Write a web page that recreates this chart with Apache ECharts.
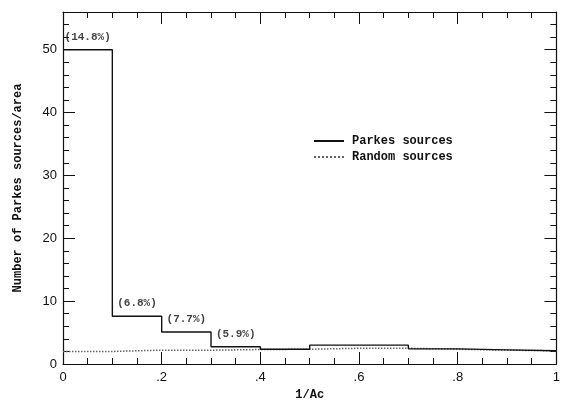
<!DOCTYPE html>
<html><head><meta charset="utf-8">
<script src="https://cdn.jsdelivr.net/npm/echarts@6/dist/echarts.min.js"></script>
<style>html,body{margin:0;padding:0;background:#fff}#c{width:563px;height:406px}</style>
</head><body><div id="c"></div>
<script>
const binEdges = [0, 0.1, 0.2, 0.3, 0.4, 0.5, 0.6, 0.7, 0.8, 0.9, 1.0];
const parkesValues = [50, 7.6, 5.1, 2.75, 2.35, 3.0, 3.0, 2.4, 2.25, 2.1];
const randomValues = [2.0, 2.2, 2.2, 2.3, 2.35, 2.5, 2.5, 2.35, 2.2, 2.1];
const annotLabels = ['(14.8%)', '(6.8%)', '(7.7%)', '(5.9%)'];
const xTickLabels = {0: '0', 0.2: '.2', 0.4: '.4', 0.6: '.6', 0.8: '.8', 1: '1'};

function stepData(vals) {
  const d = vals.map((v, i) => [binEdges[i], v]);
  d.push([binEdges[vals.length], vals[vals.length - 1]]);
  return d;
}
const annotData = annotLabels.map((t, i) => ({
  value: [(binEdges[i] + binEdges[i + 1]) / 2, parkesValues[i]],
  name: t
}));

const ink = '#111';
const mono = '"Liberation Mono", monospace';
const sans = '"Liberation Sans", Arial, sans-serif';

function xAx(pos, show) {
  return {
    type: 'value', position: pos, min: 0, max: 1, interval: 0.2,
    axisLine: {show: true, onZero: false, lineStyle: {color: ink, width: 1.2}},
    axisTick: {show: true, inside: true, length: 12, lineStyle: {color: ink}},
    minorTick: {show: true, splitNumber: 4, length: 6, lineStyle: {color: ink}},
    splitLine: {show: false},
    axisLabel: {show: show, margin: 7, color: ink, fontFamily: sans, fontSize: 13,
      formatter: v => xTickLabels[Math.round(v * 10) / 10] ?? ''},
    name: show ? '1/Ac' : '', nameLocation: 'middle', nameGap: 25,
    nameTextStyle: {color: ink, fontFamily: mono, fontSize: 12, fontWeight: 'bold'}
  };
}
function yAx(pos, show) {
  return {
    type: 'value', position: pos, min: 0, max: 56, interval: 10,
    axisLine: {show: true, onZero: false, lineStyle: {color: ink, width: 1.2}},
    axisTick: {show: true, inside: true, length: 12, lineStyle: {color: ink}},
    minorTick: {show: true, splitNumber: 5, length: 6, lineStyle: {color: ink}},
    splitLine: {show: false},
    axisLabel: {show: show, margin: 6, color: ink, fontFamily: sans, fontSize: 13, showMaxLabel: false},
    name: show ? 'Number of Parkes sources/area' : '', nameLocation: 'middle', nameGap: 39,
    nameTextStyle: {color: ink, fontFamily: mono, fontSize: 12, fontWeight: 'bold'}
  };
}

const chart = echarts.init(document.getElementById('c'), null, {renderer: 'canvas'});
chart.setOption({
  animation: false,
  backgroundColor: '#fff',
  grid: {left: 63, right: 3, top: 12, bottom: 29, containLabel: false},
  xAxis: [xAx('bottom', true), xAx('top', false)],
  yAxis: [yAx('left', true), yAx('right', false)],
  legend: {
    orient: 'vertical', left: 313, top: 135, padding: 0, itemWidth: 30, itemHeight: 12, itemGap: 4,
    itemStyle: {opacity: 0},
    textStyle: {color: ink, fontFamily: mono, fontSize: 12, fontWeight: 'bold', padding: [0, 0, 0, 3]},
    data: ['Parkes sources', 'Random sources']
  },
  series: [
    {
      name: 'Random sources', type: 'line', step: 'end', symbol: 'none',
      xAxisIndex: 0, yAxisIndex: 0,
      lineStyle: {color: '#666', width: 1.5, type: 'dotted'},
      itemStyle: {color: '#666'},
      data: stepData(randomValues), z: 2
    },
    {
      name: 'Parkes sources', type: 'line', step: 'end', symbol: 'none',
      xAxisIndex: 0, yAxisIndex: 0,
      lineStyle: {color: ink, width: 1.4},
      itemStyle: {color: ink},
      data: stepData(parkesValues), z: 3
    },
    {
      name: 'annot', type: 'scatter', symbolSize: 0, xAxisIndex: 0, yAxisIndex: 0,
      data: annotData, silent: true,
      label: {show: true, position: 'top', distance: 7, formatter: p => p.name,
        color: ink, fontFamily: mono, fontSize: 11, fontWeight: 'bold'}
    }
  ]
});
</script></body></html>
